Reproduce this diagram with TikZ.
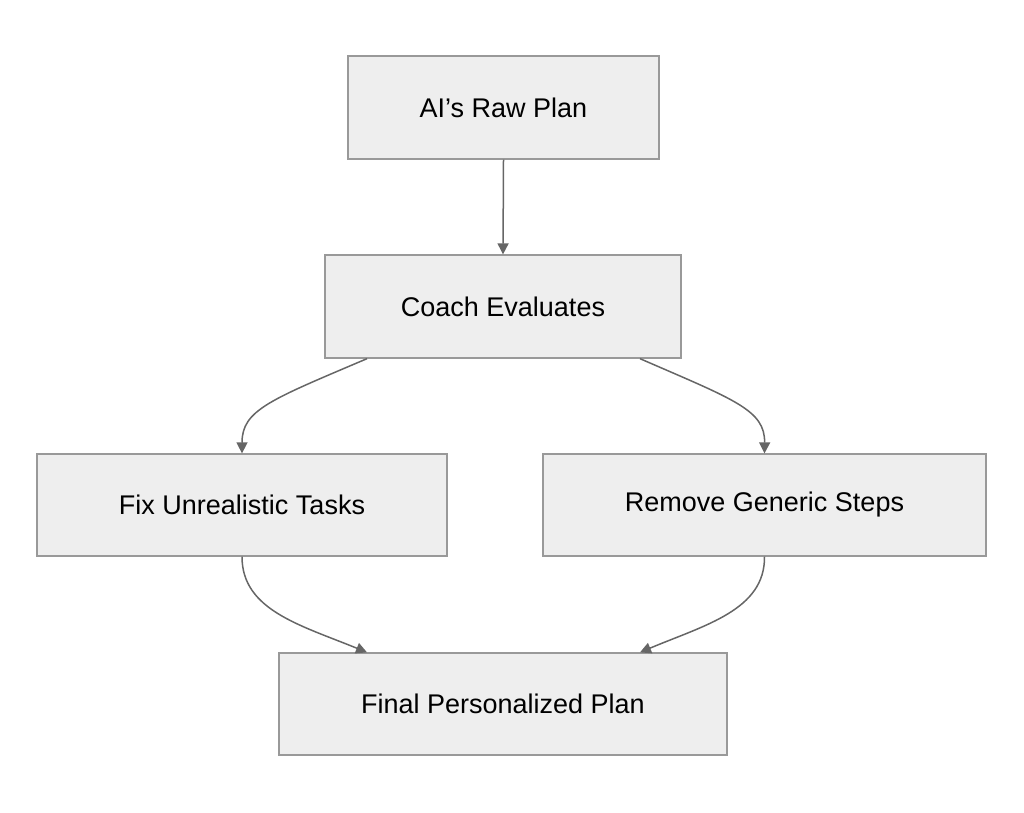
\documentclass[tikz,border=0pt]{standalone}
\usepackage{fontspec}
\setmainfont{Liberation Sans}
\usetikzlibrary{arrows.meta}
\definecolor{boxfill}{HTML}{EEEEEE}
\definecolor{boxline}{HTML}{999999}
\definecolor{edge}{HTML}{666666}
\begin{document}
\begin{tikzpicture}[x=1pt,y=-1pt,
  box/.style={draw=boxline,fill=boxfill,line width=1.3pt,inner sep=0pt,font=\fontsize{27}{32}\selectfont},
  arr/.style={draw=edge,line width=1.5pt,-{Triangle[length=11pt,width=11pt]}}]
\useasboundingbox (0,0) rectangle (1024,812);
\node[box,minimum width=311pt,minimum height=103pt] (raw) at (503.5,107.5) {AI's Raw Plan};
\node[box,minimum width=356pt,minimum height=103pt] (coach) at (503,306.5) {Coach Evaluates};
\node[box,minimum width=410pt,minimum height=102pt] (fix) at (242,505) {Fix Unrealistic Tasks};
\node[box,minimum width=443pt,minimum height=102pt] (rem) at (764.5,505) {Remove Generic Steps};
\node[box,minimum width=448pt,minimum height=102pt] (fin) at (503,704) {Final Personalized Plan};
\draw[arr] (raw.south) -- (coach.north);
\draw[arr] ([xshift=-136pt]coach.south) .. controls (270,400) and (242,410) .. ([xshift=0pt]fix.north);
\draw[arr] ([xshift=137pt]coach.south) .. controls (735,400) and (765,410) .. (rem.north);
\draw[arr] (fix.south) .. controls (242,610) and (300,625) .. ([xshift=-136pt]fin.north);
\draw[arr] (rem.south) .. controls (765,610) and (705,625) .. ([xshift=137pt]fin.north);
\end{tikzpicture}
\end{document}
